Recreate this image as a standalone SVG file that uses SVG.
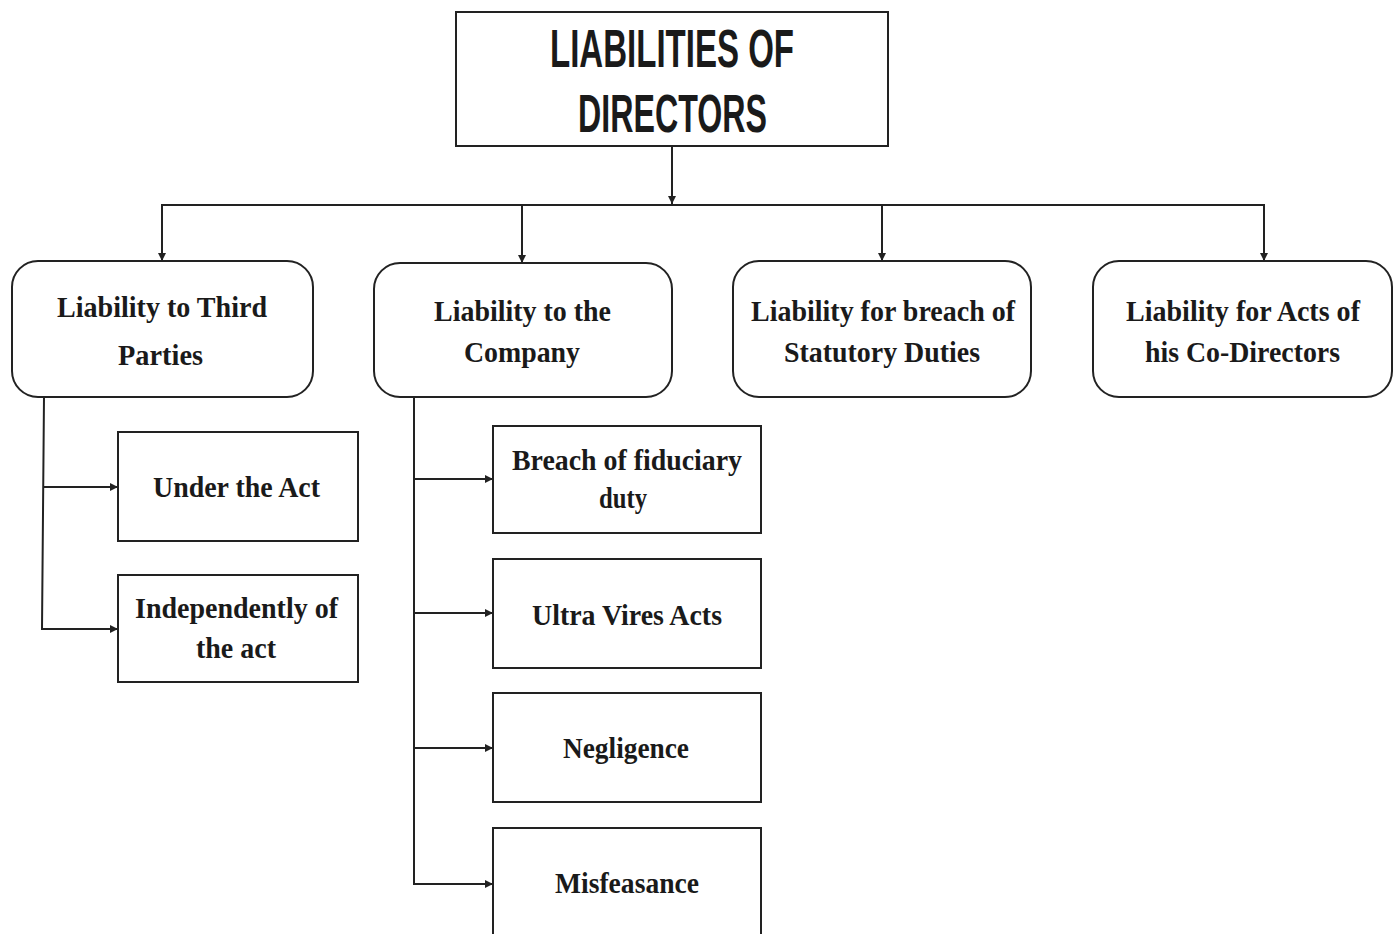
<svg xmlns="http://www.w3.org/2000/svg" width="1396" height="934" viewBox="0 0 1396 934">
  <style>
    .box { fill: #ffffff; stroke: #222222; stroke-width: 2; }
    .link { fill: none; stroke: #222222; stroke-width: 2; }
    .title { font-family: "Liberation Sans", "DejaVu Sans", sans-serif; font-weight: bold; font-size: 54px; fill: #1a1a1a; }
    .label { font-family: "Liberation Serif", "DejaVu Serif", serif; font-weight: bold; font-size: 30px; fill: #1a1a1a; }
  </style>
  <defs>
    <marker id="arrow" viewBox="0 0 10 10" refX="10" refY="5" markerWidth="9" markerHeight="8" markerUnits="userSpaceOnUse" orient="auto">
      <path d="M0,0 L10,5 L0,10 z" fill="#222222"/>
    </marker>
  </defs>
  <rect width="1396" height="934" fill="#ffffff"/>

  <!-- connectors -->
  <g id="connectors">
    <line class="link" x1="672" y1="147" x2="672" y2="204" marker-end="url(#arrow)"/>
    <line class="link" x1="161" y1="205" x2="1265" y2="205"/>
    <line class="link" x1="162" y1="205" x2="162" y2="261" marker-end="url(#arrow)"/>
    <line class="link" x1="522" y1="205" x2="522" y2="263" marker-end="url(#arrow)"/>
    <line class="link" x1="882" y1="205" x2="882" y2="261" marker-end="url(#arrow)"/>
    <line class="link" x1="1264" y1="205" x2="1264" y2="261" marker-end="url(#arrow)"/>

    <!-- third-party branch -->
    <polyline class="link" points="44,397 42,629 118,629" marker-end="url(#arrow)"/>
    <line class="link" x1="43" y1="487" x2="118" y2="487" marker-end="url(#arrow)"/>

    <!-- company branch -->
    <line class="link" x1="414" y1="397" x2="414" y2="884"/>
    <line class="link" x1="414" y1="479" x2="493" y2="479" marker-end="url(#arrow)"/>
    <line class="link" x1="414" y1="613" x2="493" y2="613" marker-end="url(#arrow)"/>
    <line class="link" x1="414" y1="748" x2="493" y2="748" marker-end="url(#arrow)"/>
    <line class="link" x1="413" y1="884" x2="493" y2="884" marker-end="url(#arrow)"/>
  </g>

  <g id="root">
    <rect class="box" x="456" y="12" width="432" height="134"/>
    <text class="title" x="550" y="67" textLength="244" lengthAdjust="spacingAndGlyphs">LIABILITIES OF</text>
    <text class="title" x="578" y="132" textLength="189" lengthAdjust="spacingAndGlyphs">DIRECTORS</text>
  </g>

  <g id="third-parties">
    <rect class="box" x="12" y="261" width="301" height="136" rx="26" ry="26"/>
    <text class="label" x="57" y="317" textLength="210" lengthAdjust="spacingAndGlyphs">Liability to Third</text>
    <text class="label" x="118" y="365" textLength="85" lengthAdjust="spacingAndGlyphs">Parties</text>
  </g>

  <g id="company">
    <rect class="box" x="374" y="263" width="298" height="134" rx="26" ry="26"/>
    <text class="label" x="434" y="321" textLength="177" lengthAdjust="spacingAndGlyphs">Liability to the</text>
    <text class="label" x="464" y="362" textLength="116" lengthAdjust="spacingAndGlyphs">Company</text>
  </g>

  <g id="statutory-duties">
    <rect class="box" x="733" y="261" width="298" height="136" rx="26" ry="26"/>
    <text class="label" x="751" y="321" textLength="264" lengthAdjust="spacingAndGlyphs">Liability for breach of</text>
    <text class="label" x="784" y="362" textLength="196" lengthAdjust="spacingAndGlyphs">Statutory Duties</text>
  </g>

  <g id="co-directors">
    <rect class="box" x="1093" y="261" width="299" height="136" rx="26" ry="26"/>
    <text class="label" x="1126" y="321" textLength="234" lengthAdjust="spacingAndGlyphs">Liability for Acts of</text>
    <text class="label" x="1145" y="362" textLength="195" lengthAdjust="spacingAndGlyphs">his Co-Directors</text>
  </g>

  <g id="under-the-act">
    <rect class="box" x="118" y="432" width="240" height="109"/>
    <text class="label" x="153" y="497" textLength="167" lengthAdjust="spacingAndGlyphs">Under the Act</text>
  </g>

  <g id="independently">
    <rect class="box" x="118" y="575" width="240" height="107"/>
    <text class="label" x="135" y="618" textLength="203" lengthAdjust="spacingAndGlyphs">Independently of</text>
    <text class="label" x="196" y="658" textLength="80" lengthAdjust="spacingAndGlyphs">the act</text>
  </g>

  <g id="fiduciary-duty">
    <rect class="box" x="493" y="426" width="268" height="107"/>
    <text class="label" x="512" y="470" textLength="230" lengthAdjust="spacingAndGlyphs">Breach of fiduciary</text>
    <text class="label" x="599" y="508" textLength="48" lengthAdjust="spacingAndGlyphs">duty</text>
  </g>

  <g id="ultra-vires">
    <rect class="box" x="493" y="559" width="268" height="109"/>
    <text class="label" x="532" y="625" textLength="190" lengthAdjust="spacingAndGlyphs">Ultra Vires Acts</text>
  </g>

  <g id="negligence">
    <rect class="box" x="493" y="693" width="268" height="109"/>
    <text class="label" x="563" y="758" textLength="126" lengthAdjust="spacingAndGlyphs">Negligence</text>
  </g>

  <g id="misfeasance">
    <rect class="box" x="493" y="828" width="268" height="120"/>
    <text class="label" x="555" y="893" textLength="144" lengthAdjust="spacingAndGlyphs">Misfeasance</text>
  </g>
</svg>
